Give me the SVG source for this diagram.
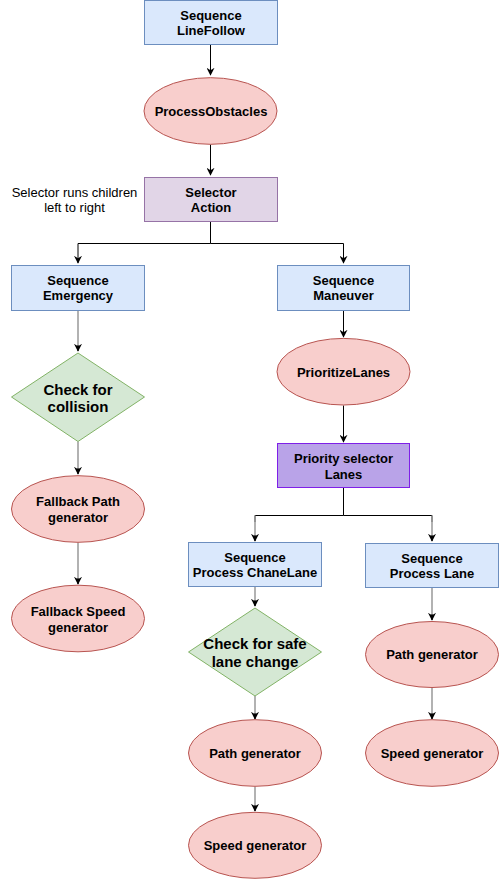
<svg xmlns="http://www.w3.org/2000/svg" width="500" height="879" viewBox="0 0 500 879">
<defs>
<marker id="arr" viewBox="0 0 10 10" refX="9" refY="5" markerWidth="8" markerHeight="8" markerUnits="userSpaceOnUse" orient="auto">
<path d="M0,0 L10,5 L0,10 L3,5 Z" fill="#000"/>
</marker>
<style>
.bg{fill:#fff}
.blue{fill:#dae8fc;stroke:#6c8ebf;stroke-width:1}
.red{fill:#f8cecc;stroke:#b85450;stroke-width:1}
.green{fill:#d5e8d4;stroke:#82b366;stroke-width:1}
.purple{fill:#e1d5e7;stroke:#9673a6;stroke-width:1}
.prio{fill:#b9a3e8;stroke:#7f1fe8;stroke-width:1}
text{font-family:"Liberation Sans",Arial,sans-serif;font-size:13px;fill:#000;text-anchor:middle;dominant-baseline:central}
.b{font-weight:bold}
.big{font-size:15px;font-weight:bold}
.e{fill:none;stroke:#000;stroke-width:1}
.g{fill:none;stroke:#999;stroke-width:1.5}
</style>
</defs>
<rect class="bg" x="0" y="0" width="500" height="879"/>
<g id="connectors">
<path class="e" d="M210.5,44.5 V75" marker-end="url(#arr)"/>
<path class="e" d="M210.5,144.5 V175" marker-end="url(#arr)"/>
<path class="e" d="M210.5,221.5 V243.5 H78 V263" marker-end="url(#arr)"/>
<path class="e" d="M210.5,243.5 H343.5 V263" marker-end="url(#arr)"/>
<path class="g" d="M78,310.5 V351"/>
<path class="e" d="M78,345 V351" marker-end="url(#arr)"/>
<path class="g" d="M78,441.5 V474"/>
<path class="e" d="M78,468 V474" marker-end="url(#arr)"/>
<path class="g" d="M78,542.5 V584"/>
<path class="e" d="M78,578 V584" marker-end="url(#arr)"/>
<path class="e" d="M343.5,310.5 V337" marker-end="url(#arr)"/>
<path class="e" d="M343.5,405.5 V442" marker-end="url(#arr)"/>
<path class="e" d="M343.5,487.5 V515.5 H255 V522"/>
<path class="e" d="M343.5,515.5 H432 V522"/>
<path class="g" d="M255,515.5 V541"/>
<path class="e" d="M255,535 V541" marker-end="url(#arr)"/>
<path class="g" d="M432,515.5 V541"/>
<path class="e" d="M432,535 V541" marker-end="url(#arr)"/>
<path class="g" d="M255,586.5 V606"/>
<path class="e" d="M255,600 V606" marker-end="url(#arr)"/>
<path class="g" d="M255,696 V719"/>
<path class="e" d="M255,713 V719" marker-end="url(#arr)"/>
<path class="g" d="M255,786.5 V811"/>
<path class="e" d="M255,805 V811" marker-end="url(#arr)"/>
<path class="g" d="M432,587.5 V620"/>
<path class="e" d="M432,614 V620" marker-end="url(#arr)"/>
<path class="g" d="M432,687.5 V719"/>
<path class="e" d="M432,713 V719" marker-end="url(#arr)"/>
</g>
<g id="seq-linefollow">
<rect class="blue" x="144.5" y="0.5" width="133" height="44"/>
<text class="b" x="211" y="15.5">Sequence</text>
<text class="b" x="211" y="30.5">LineFollow</text>
</g>
<g id="process-obstacles">
<ellipse class="red" cx="210.5" cy="111" rx="66.5" ry="33.3"/>
<text class="b" x="211" y="111">ProcessObstacles</text>
</g>
<g id="selector-action">
<rect class="purple" x="144.5" y="177.5" width="133" height="44"/>
<text class="b" x="211" y="192.5">Selector</text>
<text class="b" x="211" y="207.5">Action</text>
</g>
<g id="note">
<text x="74.5" y="192.5">Selector runs children</text>
<text x="74.5" y="207.5">left to right</text>
</g>
<g id="seq-emergency">
<rect class="blue" x="11.5" y="265.5" width="133" height="45"/>
<text class="b" x="78" y="280.5">Sequence</text>
<text class="b" x="78" y="295.5">Emergency</text>
</g>
<g id="check-collision">
<polygon class="green" points="78,353 144.5,397 78,441.5 11.5,397"/>
<text class="big" x="78" y="389">Check for</text>
<text class="big" x="78" y="406">collision</text>
</g>
<g id="fallback-path">
<ellipse class="red" cx="78" cy="509" rx="66.5" ry="33.3"/>
<text class="b" x="78" y="501">Fallback Path</text>
<text class="b" x="78" y="517">generator</text>
</g>
<g id="fallback-speed">
<ellipse class="red" cx="78" cy="618.5" rx="66.5" ry="33.3"/>
<text class="b" x="78" y="611">Fallback Speed</text>
<text class="b" x="78" y="627">generator</text>
</g>
<g id="seq-maneuver">
<rect class="blue" x="277.5" y="265.5" width="132" height="45"/>
<text class="b" x="343.5" y="280.5">Sequence</text>
<text class="b" x="343.5" y="295.5">Maneuver</text>
</g>
<g id="prioritize-lanes">
<ellipse class="red" cx="343.5" cy="371.7" rx="66.5" ry="33.3"/>
<text class="b" x="343.5" y="372">PrioritizeLanes</text>
</g>
<g id="priority-selector">
<rect class="prio" x="277.5" y="443.5" width="132" height="44"/>
<text class="b" x="343.5" y="458.5">Priority selector</text>
<text class="b" x="343.5" y="474">Lanes</text>
</g>
<g id="seq-changelane">
<rect class="blue" x="188.5" y="542.5" width="133" height="44"/>
<text class="b" x="255" y="557">Sequence</text>
<text class="b" x="255" y="572">Process ChaneLane</text>
</g>
<g id="check-safe">
<polygon class="green" points="255,608 321.5,652 255,696 188.5,652"/>
<text class="big" x="255" y="643">Check for safe</text>
<text class="big" x="255" y="661">lane change</text>
</g>
<g id="path-gen-left">
<ellipse class="red" cx="255" cy="753" rx="66.5" ry="33.3"/>
<text class="b" x="255" y="753">Path generator</text>
</g>
<g id="speed-gen-left">
<ellipse class="red" cx="255" cy="845.3" rx="66.5" ry="33"/>
<text class="b" x="255" y="845.5">Speed generator</text>
</g>
<g id="seq-lane">
<rect class="blue" x="365.5" y="543.5" width="133" height="44"/>
<text class="b" x="432" y="558.5">Sequence</text>
<text class="b" x="432" y="573.5">Process Lane</text>
</g>
<g id="path-gen-right">
<ellipse class="red" cx="432" cy="654.5" rx="66.5" ry="33"/>
<text class="b" x="432" y="654.5">Path generator</text>
</g>
<g id="speed-gen-right">
<ellipse class="red" cx="432" cy="753" rx="66.5" ry="33.3"/>
<text class="b" x="432" y="753">Speed generator</text>
</g>
</svg>
